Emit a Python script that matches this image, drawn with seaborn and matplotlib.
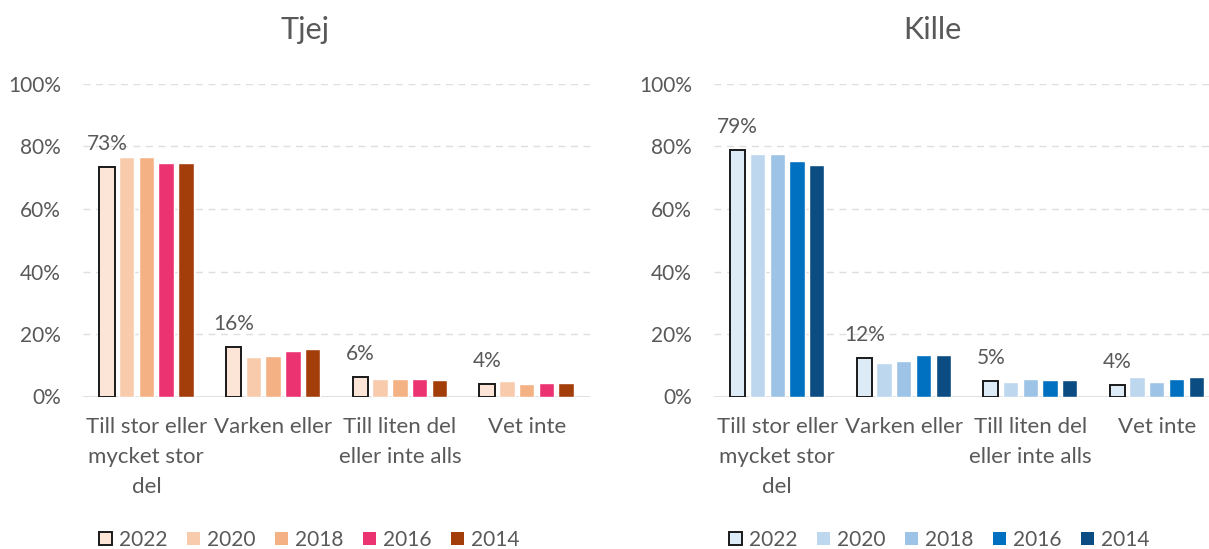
import pandas as pd
import matplotlib.pyplot as plt
import seaborn as sns
from matplotlib.patches import Patch

# Data (share of answers, %)
categories = ["Till stor eller\nmycket stor\ndel", "Varken eller",
              "Till liten del\neller inte alls", "Vet inte"]
years = ["2022", "2020", "2018", "2016", "2014"]

tjej = {
    "2022": [73.4, 16.0, 6.3, 4.0],
    "2020": [76.5, 12.6, 5.5, 5.0],
    "2018": [76.7, 13.1, 5.5, 3.9],
    "2016": [74.7, 14.7, 5.5, 4.4],
    "2014": [74.6, 15.3, 5.3, 4.4],
}
kille = {
    "2022": [78.9, 12.3, 4.9, 3.8],
    "2020": [77.6, 10.7, 4.6, 6.1],
    "2018": [77.7, 11.5, 5.7, 4.5],
    "2016": [75.3, 13.2, 5.3, 5.6],
    "2014": [74.1, 13.2, 5.3, 6.3],
}
tjej_labels = ["73%", "16%", "6%", "4%"]
kille_labels = ["79%", "12%", "5%", "4%"]

tjej_colors = ["#FCE4D6", "#F8CBAD", "#F4B183", "#EC3372", "#A33E0A"]
kille_colors = ["#DDEBF7", "#BDD7EE", "#9DC3E6", "#0070C0", "#0B4D82"]

sns.set_style("white")
plt.rcParams['font.family'] = ['Lato', 'DejaVu Sans']
grey = "#595959"

fig = plt.figure(figsize=(12.09, 5.49), dpi=100)
W, H = 1209, 549
bottom = (H - 396.5) / H
height = (396.5 - 84) / H
ax1 = fig.add_axes([83 / W, bottom, (590 - 83) / W, height])
ax2 = fig.add_axes([714 / W, bottom, (1220 - 714) / W, height])


def long_df(values):
    rows = []
    for y in years:
        for c, v in zip(categories, values[y]):
            rows.append({"cat": c, "year": y, "val": v})
    return pd.DataFrame(rows)


def draw(ax, values, colors, labels, title, title_x, leg_x):
    df = long_df(values)
    sns.barplot(data=df, x="cat", y="val", hue="year", palette=colors,
                width=0.78, saturation=1, ax=ax, legend=False)
    # narrow each bar to leave small gaps, outline the 2022 bars
    for i, cont in enumerate(ax.containers):
        for p in cont.patches:
            w = p.get_width()
            p.set_x(p.get_x() + w * 0.11)
            p.set_width(w * 0.78)
            if i == 0:
                p.set_edgecolor("#1a1a1a")
                p.set_linewidth(1.4)
    # data labels only for 2022
    for p, lab in zip(ax.containers[0].patches, labels):
        ax.annotate(lab, (p.get_x() + p.get_width() / 2, p.get_height()),
                    xytext=(0, 16.5), textcoords="offset points",
                    ha="center", va="center", fontsize=15, color=grey)
    ax.set_ylim(0, 100)
    ax.set_yticks([0, 20, 40, 60, 80, 100])
    ax.set_yticklabels([f"{t}%" for t in [0, 20, 40, 60, 80, 100]])
    ax.set_xlabel("")
    ax.set_ylabel("")
    for s in ax.spines.values():
        s.set_visible(False)
    ax.set_axisbelow(True)
    for t in [20, 40, 60, 80, 100]:
        ax.axhline(t, color="#dedede", lw=1, ls=(0, (5, 4)), zorder=0)
    ax.axhline(0, color="#d9d9d9", lw=1.2, zorder=0)
    ax.tick_params(axis="y", length=0, pad=16, labelsize=15, labelcolor=grey)
    ax.tick_params(axis="x", length=0, pad=15, labelsize=16, labelcolor=grey)
    for t in ax.get_xticklabels():
        t.set_linespacing(1.6)
    fig.text(title_x / W, (H - 30) / H, title, ha="center", va="center",
             fontsize=22, color=grey)
    handles = []
    for i, (y, c) in enumerate(zip(years, colors)):
        handles.append(Patch(facecolor=c, edgecolor="#1a1a1a" if i == 0 else c,
                             linewidth=1.4 if i == 0 else 0, label=y))
    fig.legend(handles=handles, loc="center", bbox_to_anchor=(leg_x / W, 9 / H),
               ncol=5, frameon=False, fontsize=15, labelcolor=grey,
               handlelength=0.62, handleheight=0.62, handletextpad=0.33,
               columnspacing=0.95)


draw(ax1, tjej, tjej_colors, tjej_labels, "Tjej", 305, 309)
draw(ax2, kille, kille_colors, kille_labels, "Kille", 932, 939)

plt.savefig("out.png", dpi=100)
plt.close()
